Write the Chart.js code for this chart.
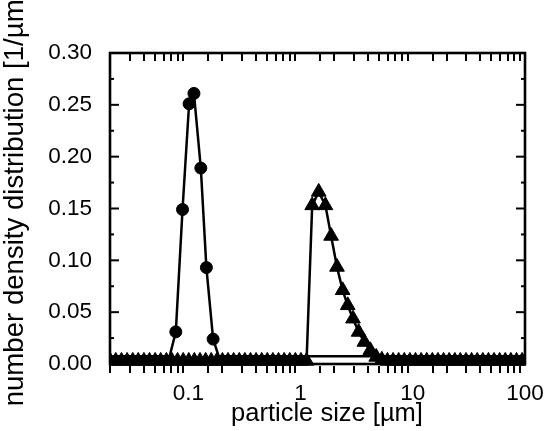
<!DOCTYPE html>
<html><head><meta charset="utf-8">
<script src="https://cdn.jsdelivr.net/npm/chart.js@4/dist/chart.umd.min.js"></script>
<style>html,body{margin:0;padding:0;background:#fff}</style>
</head><body>
<canvas id="c" width="546" height="431"></canvas>
<script>
// ---- data ----
// fine fraction (circles); the flat ends are the line that runs just above the axis
const circleX = [0.0201, 0.068, 0.0772, 0.0886, 0.1014, 0.112, 0.129, 0.1446, 0.166, 0.186, 100];
const circleY = [0.0075, 0.0075, 0.031, 0.149, 0.251, 0.261, 0.189, 0.093, 0.024, 0.0075, 0.0075];

// coarse fraction (triangles)
const triX = [0.0201, 0.0225, 0.0253, 0.0284, 0.0319, 0.0357, 0.0401, 0.0450, 0.0505, 0.0566,
  0.0636, 0.0713, 0.0800, 0.0898, 0.1007, 0.1130, 0.1268, 0.1423, 0.1597, 0.1791,
  0.2010, 0.2255, 0.2530, 0.2839, 0.3185, 0.3574, 0.4010, 0.4499, 0.5048, 0.5664,
  0.6355, 0.7131, 0.8001, 0.8977, 1.007, 1.130, 1.268, 1.45, 1.664, 1.87,
  2.11, 2.37, 2.63, 2.93, 3.29, 3.70, 4.18, 4.72, 5.30, 5.94,
  6.67, 7.48, 8.40, 9.42, 10.57, 11.86, 13.31, 14.93, 16.75, 18.8,
  21.1, 23.7, 26.5, 29.8, 33.4, 37.5, 42.1, 47.2, 53.0, 59.4,
  66.7, 74.8, 84.0, 94.2];
const triY = [0.003, 0.003, 0.003, 0.003, 0.003, 0.003, 0.003, 0.003, 0.003, 0.003,
  0.003, 0.003, 0.003, 0.003, 0.003, 0.003, 0.003, 0.003, 0.003, 0.003,
  0.003, 0.003, 0.003, 0.003, 0.003, 0.003, 0.003, 0.003, 0.003, 0.003,
  0.003, 0.003, 0.003, 0.003, 0.003, 0.003, 0.153, 0.166, 0.153, 0.1235,
  0.0936, 0.0711, 0.0566, 0.0437, 0.0309, 0.0212, 0.0132, 0.0068, 0.004, 0.003,
  0.003, 0.003, 0.003, 0.003, 0.003, 0.003, 0.003, 0.003, 0.003, 0.003,
  0.003, 0.003, 0.003, 0.003, 0.003, 0.003, 0.003, 0.003, 0.003, 0.003,
  0.003, 0.003, 0.003, 0.003];

const xTickValues = [0.1, 1, 10, 100];
const xTickLabels = ['0.1', '1', '10', '100'];
const xTitle = 'particle size [µm]';
const yTitle = 'number density distribution [1/µm]';

const FONT = '"Liberation Sans", Arial, sans-serif';

const framePlugin = {
  id: 'frame',
  afterDatasetsDraw(chart) {
    const ctx = chart.ctx;
    const {left, right, top, bottom} = chart.chartArea;
    const xs = chart.scales.x, ys = chart.scales.y;
    ctx.save();
    ctx.strokeStyle = '#000';
    ctx.lineWidth = 2;
    ctx.lineCap = 'butt';
    const seg = (x1, y1, x2, y2) => { ctx.beginPath(); ctx.moveTo(x1, y1); ctx.lineTo(x2, y2); ctx.stroke(); };
    xs.ticks.forEach(t => {
      const v = t.value;
      const m = v / Math.pow(10, Math.floor(Math.log10(v) + 1e-9));
      if (Math.abs(m - 1) < 1e-6) return;
      const px = Math.round(xs.getPixelForValue(v));
      if (px > left + 2 && px < right - 2) seg(px, top, px, top + 8);
      if (px >= left - 1 && px <= right + 1) seg(px, bottom + 2, px, bottom + 9);
    });
    const yt = ys.ticks.map(t => t.value);
    yt.forEach((v, i) => {
      const py = ys.getPixelForValue(v);
      if (py > top + 2 && py < bottom - 2) {
        seg(left, py, left + 9, py);
        seg(right, py, right - 9, py);
      }
      if (i < yt.length - 1) {
        const pm = ys.getPixelForValue((v + yt[i + 1]) / 2);
        seg(left, pm, left + 4, pm);
        seg(right, pm, right - 4, pm);
      }
    });
    ctx.lineWidth = 2.6;
    ctx.strokeRect(left, top, right - left, bottom - top);
    ctx.restore();
  },
  afterDraw(chart) {
    const ctx = chart.ctx;
    ctx.save();
    ctx.fillStyle = '#000';
    ctx.textAlign = 'center';
    ctx.textBaseline = 'middle';
    ctx.font = '25.5px ' + FONT;
    ctx.fillText(xTitle, 327, 414);
    ctx.translate(15, 199);
    ctx.rotate(-Math.PI / 2);
    ctx.font = '27.6px ' + FONT;
    ctx.fillText(yTitle, 0, 0);
    ctx.restore();
  }
};

new Chart(document.getElementById('c'), {
  type: 'scatter',
  data: {
    datasets: [
      {
        label: 'fine',
        data: circleX.map((x, i) => ({x, y: circleY[i]})),
        showLine: true,
        borderColor: '#000',
        backgroundColor: '#000',
        borderWidth: 2.5,
        pointStyle: 'circle',
        pointRadius: c => (circleY[c.dataIndex] > 0.01 ? 6 : 0),
        pointBorderWidth: 1,
        clip: {left: 1, right: 1, top: 1, bottom: 3}
      },
      {
        label: 'coarse',
        data: triX.map((x, i) => ({x, y: triY[i]})),
        showLine: true,
        borderColor: '#000',
        backgroundColor: '#000',
        borderWidth: 2.5,
        pointStyle: 'triangle',
        pointRadius: 8.5,
        pointBorderWidth: 1,
        clip: {left: 1, right: 1, top: 1, bottom: 3}
      }
    ]
  },
  options: {
    responsive: false,
    animation: false,
    devicePixelRatio: 1,
    layout: {padding: {top: 53, right: 21, left: 0, bottom: 0}},
    plugins: {legend: {display: false}, tooltip: {enabled: false}},
    scales: {
      x: {
        type: 'logarithmic',
        min: 0.02, max: 100,
        grid: {display: false, drawTicks: false},
        border: {display: false},
        afterFit: s => { s.height = 67; s.paddingLeft = 0; s.paddingRight = 0; },
        ticks: {
          autoSkip: false, maxRotation: 0, minRotation: 0, padding: 16,
          color: '#000', font: {family: FONT, size: 22.5},
          callback: v => {
            const i = xTickValues.findIndex(t => Math.abs(v - t) / t < 1e-6);
            return i >= 0 ? xTickLabels[i] : '';
          }
        },
        title: {display: false, text: xTitle}
      },
      y: {
        min: 0, max: 0.3,
        grid: {display: false, drawTicks: false},
        border: {display: false},
        afterFit: s => { s.width = 110; s.paddingTop = 0; s.paddingBottom = 0; },
        ticks: {
          stepSize: 0.05, padding: 18, color: '#000', font: {family: FONT, size: 22.5},
          callback: v => v.toFixed(2)
        },
        title: {display: false, text: yTitle}
      }
    }
  },
  plugins: [framePlugin]
});
</script>
</body></html>
